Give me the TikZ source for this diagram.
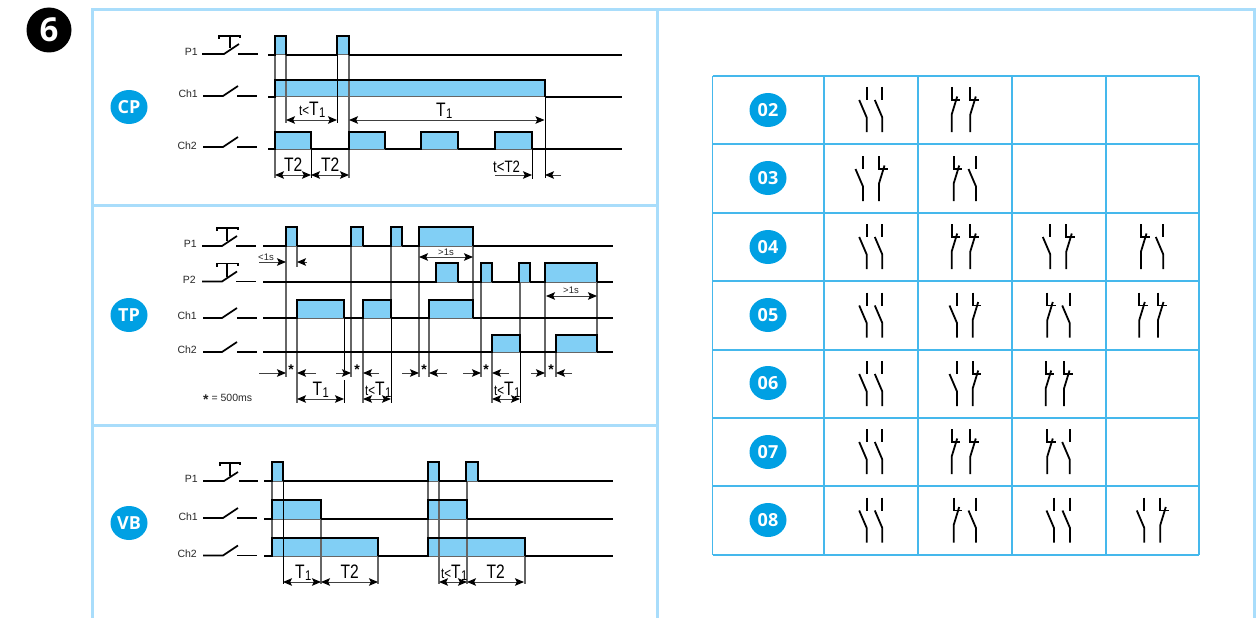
\documentclass[tikz,border=0pt]{standalone}
\usepackage{fontspec}
\setmainfont{Liberation Sans}
\newfontfamily\badgefont[Scale=1]{Open Sans}
\newfontfamily\condfont[FakeStretch=0.8]{Liberation Sans}
\usetikzlibrary{arrows.meta}
\definecolor{framec}{HTML}{A9DDFB}
\definecolor{badgec}{HTML}{00A0E3}
\definecolor{fillc}{HTML}{81CFF5}
\definecolor{gridc}{HTML}{45B8EC}
\definecolor{guidec}{HTML}{666666}
\tikzset{
  framel/.style={draw=framec,line width=3pt},
  gridl/.style={draw=gridc,line width=1.3pt},
  wavel/.style={draw=black,line width=1.6pt,miter limit=3},
  basel/.style={draw=guidec,line width=1pt},
  pulse/.style={fill=fillc,draw=none},
  guide/.style={draw=guidec,line width=1.2pt},
  guideb/.style={draw=black,line width=1pt},
  dimb/.style={draw=black!75,line width=.9pt,{Stealth[length=9pt,width=7.5pt,inset=1.8pt,color=black]}-{Stealth[length=9pt,width=7.5pt,inset=1.8pt,color=black]}},
  dimo/.style={draw=black!75,line width=.9pt,-{Stealth[length=9pt,width=7.5pt,inset=1.8pt,color=black]}},
  swl/.style={draw=black,line width=1.7pt},
  contact/.style={draw=black,line width=1.8pt},
  sig/.style={inner sep=0pt,anchor=base east,text=black!85,font=\fontsize{10.5}{12}\selectfont},
  tim/.style={inner sep=0pt,anchor=base west,text=black,font=\condfont\fontsize{19.5}{20}\selectfont},
  tims/.style={inner sep=0pt,anchor=base,text=black!85,font=\fontsize{9.5}{11}\selectfont},
  starl/.style={inner sep=0pt,anchor=base,font=\bfseries\fontsize{14}{14}\selectfont},
}
% wave: y, top, xstart, xend, pulses
\newcommand\wave[5]{%
  \foreach \a/\b in {#5}{\path[pulse] (\a,#2) rectangle (\b,#1);}
  \draw[basel] (#3,#1) -- (#4,#1);
}
\newcommand\waveline[5]{%
  \draw[wavel] (#3,#1) foreach \a/\b in {#5}{ -- (\a,#1) -- (\a,#2) -- (\b,#2) -- (\b,#1) ++(0,0) } -- (#4,#1);
}
% switch: y, xl, xk, tipx, tipy, xr1, xr2
\newcommand\sw[7]{\draw[swl] (#2,#1) -- (#3,#1) -- (#4,#5); \draw[swl] (#6,#1) -- (#7,#1);}
% push button top: ytop, x1, x2, xstem, ystem
\newcommand\btn[5]{\draw[swl,line width=1.5pt] (#2,#1+3) -- (#2,#1) -- (#3,#1) -- (#3,#1+2); \draw[swl,line width=1.5pt] (#4,#1) -- (#4,#5);}
% NO and NC contacts: x, centre y
\newcommand\NOc[2]{%
  \draw[contact] (#1,#2-22.5) -- (#1,#2-9.5);
  \draw[contact] (#1,#2+22.5) -- (#1,#2+8) -- (#1-7.5,#2-9.5);
}
\newcommand\NCc[2]{%
  \draw[contact] (#1,#2-22.5) -- (#1,#2-9.5) -- (#1+8.5,#2-9.5);
  \draw[contact] (#1,#2+22.5) -- (#1,#2+5) -- (#1+5.5,#2-13);
}
\newcommand\Tone{T\kern.02em\raisebox{-.12em}{\scalebox{.72}{1}}}
\newcommand\tlt{{\fontsize{14.5}{15}\selectfont t<}}
\begin{document}
\begin{tikzpicture}[x=1pt,y=-1pt]
\useasboundingbox (0,0) rectangle (1259,618);
% number
\node[circle,fill=black,minimum size=45pt,inner sep=0pt,text=white,font=\badgefont\bfseries\fontsize{33}{33}\selectfont] (num) at (49,30) {6};
% frame
\draw[framel] (92,618) -- (92,10) -- (1254,10) -- (1254,618);
\draw[framel] (657,10) -- (657,618);
\draw[framel] (92,205) -- (657,205);
\draw[framel] (92,425) -- (657,425);
% badges
\foreach \n/\t/\x/\y in {cp/CP/129/107,tp/TP/129/315,vb/VB/129/523,r2/02/768/110,r3/03/768/178,r4/04/768/247,r5/05/768/315,r6/06/768/383,r7/07/768/452,r8/08/768/520}{
  \path[fill=badgec] (\x,\y) ellipse [x radius=18.5pt,y radius=17pt];
  \node[inner sep=0pt,text=white,font=\badgefont\bfseries\fontsize{18}{18}\selectfont] (b\n) at (\x,\y) {\t};
}

% ---------- CP ----------
\wave{55}{36}{268}{622}{275/286,337/349}
\wave{97}{80}{268}{622}{275/545}
\wave{149}{132}{268}{622}{275/311,349/385,421/458,495/532}
\draw[guide] (275,36) -- (275,178);
\draw[guide] (286,55) -- (286,123);
\draw[guideb] (337,55) -- (337,123);
\draw[guide] (349,55) -- (349,178);
\draw[guideb] (311,149) -- (311,178);
\draw[guideb] (545,97) -- (545,178);
\draw[guideb] (532,149) -- (532,179);
\waveline{55}{36}{268}{622}{275/286,337/349}
\waveline{97}{80}{268}{622}{275/545}
\waveline{149}{132}{268}{622}{275/311,349/385,421/458,495/532}
\draw[dimb] (286,120) -- (337,120);
\draw[dimb] (349,120) -- (544.5,120);
\draw[dimb] (275,175) -- (311,175);
\draw[dimb] (311,175) -- (349,175);
\draw[dimo] (495,175) -- (532,175);
\draw[dimo] (561,175) -- (545,175);
\node[tim] (cpa) at (299,115) {\tlt\Tone};
\node[tim] (cpb) at (436,116) {\Tone};
\node[tim] (cpc) at (284,171) {T2};
\node[tim] (cpd) at (321,171) {T2};
\node[tim,font=\condfont\fontsize{16.5}{17}\selectfont] (cpe) at (493,172) {t<T2};
\node[sig] (cpp) at (198,55.5) {P1};
\node[sig] (cpf) at (198,97) {Ch1};
\node[sig] (cpg) at (197,149) {Ch2};
\sw{54}{202}{224}{239}{44}{238}{258}
\btn{36}{219}{240}{230}{48}
\sw{96}{203}{223}{238}{86}{237}{257}
\sw{147}{203}{223}{238}{137}{237}{257}

% ---------- TP ----------
\wave{246}{227}{263}{613}{286/297,351/363,391/402,419/473}
\wave{282}{263}{263}{613}{436/458,481/492,519/530,545/597}
\wave{318}{300}{263}{613}{297/344,363/391,429/473}
\wave{352}{335}{263}{613}{492/520,556/597}
\draw[guide] (286,246) -- (286,377);
\draw[guide] (297,246) -- (297,267);
\draw[guide] (297,318) -- (297,403);
\draw[guideb] (344,318) -- (344,370);
\draw[guideb] (344,380) -- (344,403);
\draw[guide] (351,246) -- (351,377);
\draw[guide] (363,318) -- (363,403);
\draw[guide] (391,246) -- (391,318);
\draw[guideb] (391,318) -- (391,403);
\draw[guide] (419,246) -- (419,377);
\draw[guide] (473,246) -- (473,318);
\draw[guide] (429,318) -- (429,377);
\draw[guide] (481,282) -- (481,377);
\draw[guide] (492,352) -- (492,403);
\draw[guide] (520,282) -- (520,352);
\draw[guideb] (520,352) -- (520,403);
\draw[guide] (545,282) -- (545,377);
\draw[guide] (556,352) -- (556,377);
\draw[guide] (597,282) -- (597,352);
\waveline{246}{227}{263}{613}{286/297,351/363,391/402,419/473}
\waveline{282}{263}{263}{613}{436/458,481/492,519/530,545/597}
\waveline{318}{300}{263}{613}{297/344,363/391,429/473}
\waveline{352}{335}{263}{613}{492/520,556/597}
\draw[dimo] (259,262) -- (286,262);
\draw[dimo] (307,262) -- (297,262);
\draw[dimb] (419,257) -- (473,257);
\draw[dimb] (546,296) -- (597,296);
\foreach \pa/\pb/\qa/\qb in {259/286/316/297,336/351/379/363,402/419/447/429,463/481/509/492,531/545/572/556}{
  \draw[dimo] (\pa,373) -- (\pb,373);
  \draw[dimo] (\qa,373) -- (\qb,373);
}
\draw[dimb] (297,399) -- (344,399);
\draw[dimb] (363,399) -- (391,399);
\draw[dimb] (492,399) -- (520,399);
\node[tims] (tpa) at (266,260) {<1s};
\node[tims] (tpb) at (446,255) {>1s};
\node[tims] (tpc) at (571,293) {>1s};
\foreach \n/\x in {s1/291,s2/357,s3/424,s4/486,s5/551}{
  \node[starl] (\n) at (\x,374) {*};
}
\node[tim] (tpd) at (312.5,395) {\Tone};
\node[tim] (tpe) at (365,395) {\tlt\Tone};
\node[tim] (tpf) at (494,395) {\tlt\Tone};
\node[inner sep=0pt,anchor=base west,text=black!85,font=\fontsize{10.5}{12}\selectfont] (tpg) at (203,401) {\textbf{\fontsize{14}{14}\selectfont\raisebox{-.25em}{*}} = 500ms};
\node[sig] (tph) at (197,247.5) {P1};
\node[sig] (tpi) at (196,283) {P2};
\node[sig] (tpj) at (197,319) {Ch1};
\node[sig] (tpk) at (197,353.5) {Ch2};
\sw{246}{202}{222}{237}{236}{236}{256}
\btn{228}{217}{238}{227}{241}
\sw{281.5}{202}{222}{237}{271.5}{236}{256}
\btn{263.5}{217}{238}{227}{276.5}
\sw{318}{203}{222}{237}{308}{237}{257}
\sw{352}{203}{222}{237}{342}{237}{257}

% ---------- VB ----------
\wave{481}{462}{264}{613}{272/283,428/439,466/478}
\wave{519}{500}{264}{613}{272/321,428/467}
\wave{556}{538}{264}{613}{272/378,428/525}
\draw[guide] (272,481) -- (272,556);
\draw[guideb] (283,481) -- (283,584);
\draw[guide] (321,519) -- (321,584);
\draw[guide] (378,556) -- (378,584);
\draw[guide] (428,481) -- (428,556);
\draw[guide] (439,481) -- (439,584);
\draw[guide] (467,481) -- (467,584);
\draw[guide] (525,556) -- (525,584);
\waveline{481}{462}{264}{613}{272/283,428/439,466/478}
\waveline{519}{500}{264}{613}{272/321,428/467}
\waveline{556}{538}{264}{613}{272/378,428/525}
\draw[dimb] (283,582) -- (321,582);
\draw[dimb] (321,582) -- (378,582);
\draw[dimb] (439,582) -- (467,582);
\draw[dimb] (467,582) -- (524,582);
\node[tim] (vba) at (295,578) {\Tone};
\node[tim] (vbb) at (340.5,578) {T2};
\node[tim] (vbc) at (441,578) {\tlt\Tone};
\node[tim] (vbd) at (486.5,578) {T2};
\node[sig] (vbe) at (198,482) {P1};
\node[sig] (vbf) at (198,520) {Ch1};
\node[sig] (vbg) at (197,557) {Ch2};
\sw{481}{203}{224}{238}{472}{239}{258}
\btn{463}{220}{240}{230}{476}
\sw{518}{203}{223}{238}{508}{237}{257}
\sw{555.5}{203}{223}{238}{545.5}{237}{257}

% ---------- table ----------
\foreach \x in {712.5,824,918,1012,1106,1199}{\draw[gridl] (\x,76) -- (\x,555);}
\foreach \y in {76,144,213,281,350,418,486,555}{\draw[gridl] (712.5,\y) -- (1199,\y);}
% common first column
\foreach \c in {109.5,246.5,315,383.5,451.5,520}{\NOc{866.7}{\c}\NOc{882.3}{\c}}
% row 02
\NCc{951.7}{109.5}\NCc{970.3}{109.5}
% row 03
\NOc{863}{178.5}\NCc{879}{178.5}
\NCc{953.7}{178.5}\NOc{976}{178.5}
% row 04
\NCc{951.7}{246.5}\NCc{970.3}{246.5}
\NOc{1050.3}{246.5}\NCc{1066.3}{246.5}
\NCc{1141}{246.5}\NOc{1163.3}{246.5}
% row 05
\NOc{957}{315}\NCc{972.7}{315}
\NCc{1047.3}{315}\NOc{1069.7}{315}
\NCc{1139.3}{315}\NCc{1158}{315}
% row 06
\NOc{957}{383.5}\NCc{972.7}{383.5}
\NCc{1045.7}{383.5}\NCc{1064}{383.5}
% row 07
\NCc{951.7}{451.5}\NCc{970.3}{451.5}
\NCc{1047.3}{451.5}\NOc{1069.7}{451.5}
% row 08
\NCc{953.7}{520}\NOc{976}{520}
\NOc{1054}{520}\NOc{1070}{520}
\NOc{1144.3}{520}\NCc{1160.3}{520}
\end{tikzpicture}
\end{document}
